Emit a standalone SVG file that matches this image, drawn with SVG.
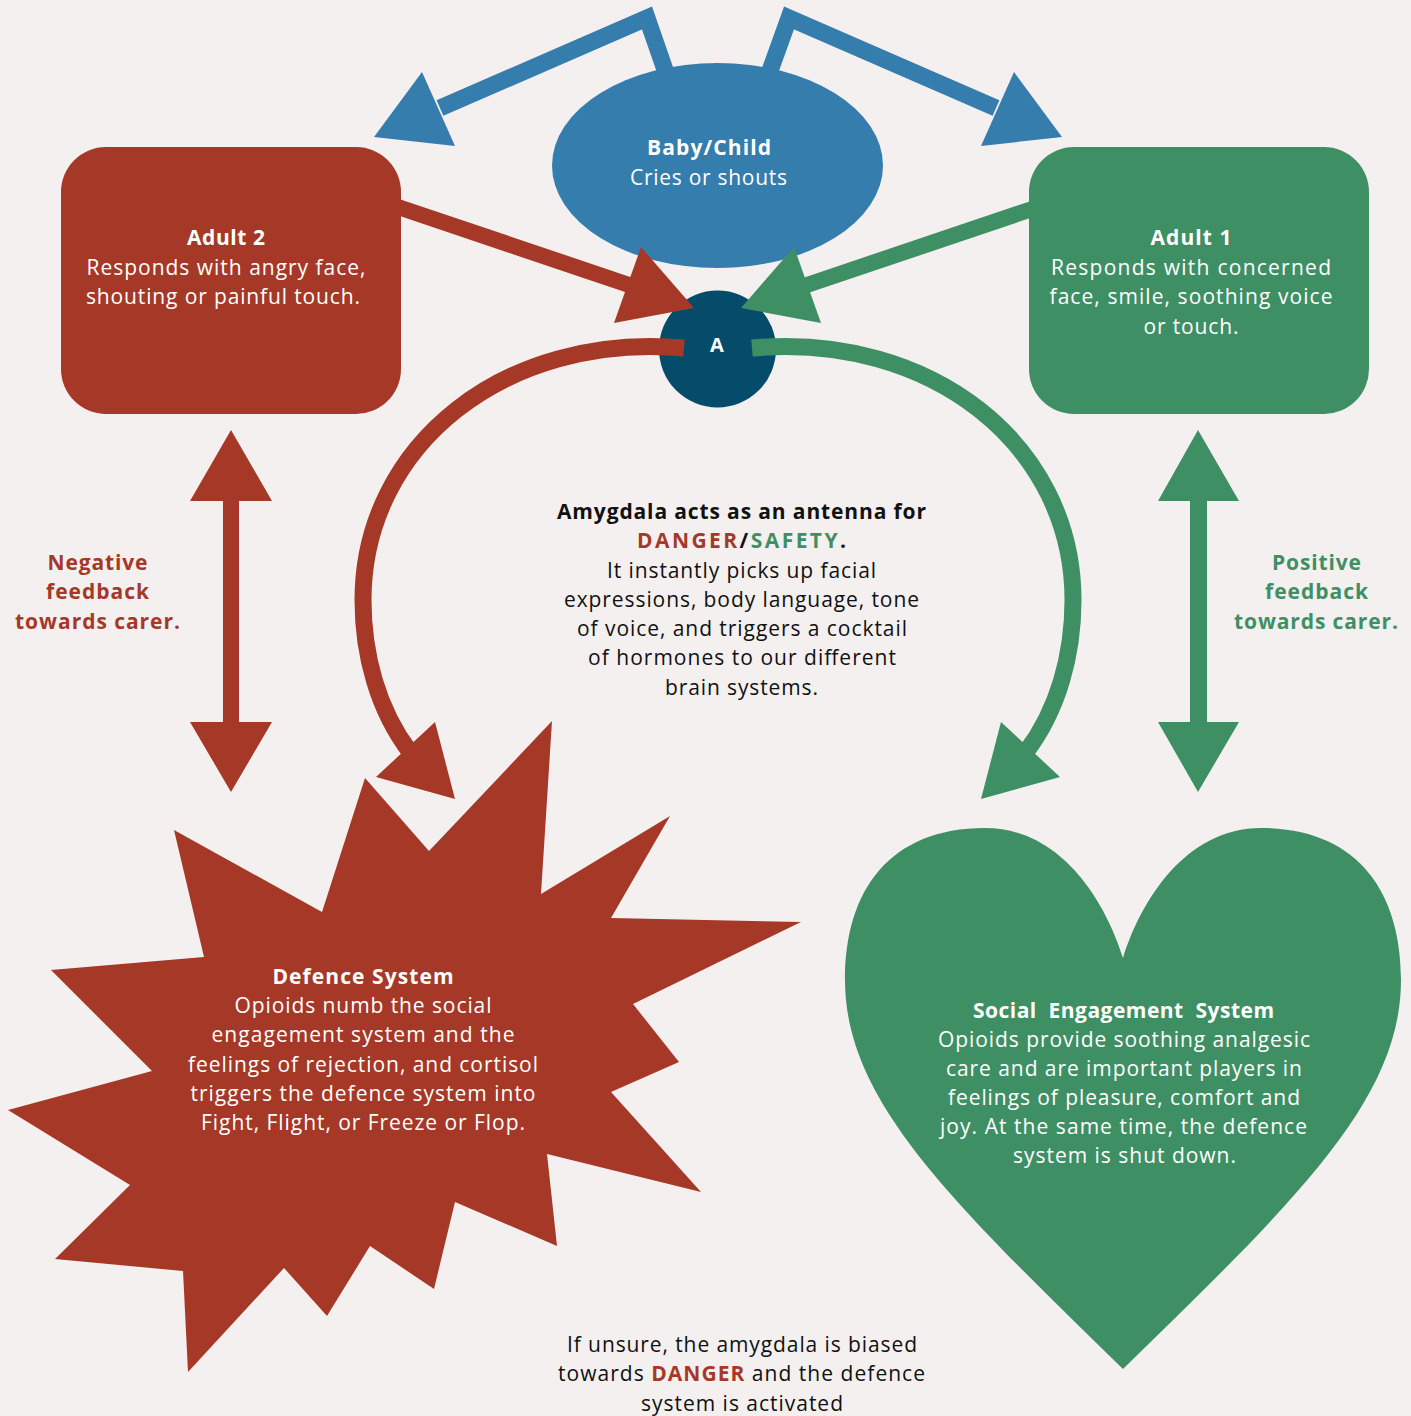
<svg xmlns="http://www.w3.org/2000/svg" width="1411" height="1416" viewBox="0 0 1411 1416">
<style>
.t{font-family:"Open Sans",Lato,"Liberation Sans",sans-serif;font-size:21px;text-anchor:middle}
.b{font-weight:bold}
.w{fill:#ffffff}
.k{fill:#111111}
.rf{fill:#a63828}
.gf{fill:#3f8f65}
.bf{fill:#357dad}
.nf{fill:#044c6a}
.rs{fill:none;stroke:#a63828}
.gs{fill:none;stroke:#3f8f65}
.bs{fill:none;stroke:#357dad;stroke-linejoin:miter}
</style>
<rect x="0" y="0" width="1411" height="1416" fill="#f4f0ef"/>

<g id="adult2">
<rect x="61" y="147" width="340" height="267" rx="45" class="rf"/>
<text class="t w b" x="226" y="245" textLength="78">Adult 2</text>
<text class="t w" x="226" y="275" textLength="279">Responds with angry face,</text>
<text class="t w" x="223" y="304" textLength="274">shouting or painful touch.</text>
</g>

<g id="adult1">
<rect x="1029" y="147" width="340" height="267" rx="45" class="gf"/>
<text class="t w b" x="1191" y="245" textLength="81">Adult 1</text>
<text class="t w" x="1191" y="275" textLength="280">Responds with concerned</text>
<text class="t w" x="1191" y="304" textLength="283">face, smile, soothing voice</text>
<text class="t w" x="1191" y="334" textLength="95">or touch.</text>
</g>

<g id="baby">
<ellipse cx="717.5" cy="165.5" rx="165.5" ry="102.5" class="bf"/>
<text class="t w b" x="709" y="155" textLength="124">Baby/Child</text>
<text class="t w" x="708.5" y="185" textLength="157">Cries or shouts</text>
</g>

<g id="amygdala">
<circle cx="717.5" cy="349" r="58.5" class="nf"/>
<text class="t w b" x="717" y="352" style="font-size:20px">A</text>
</g>

<g id="defence">
<polygon class="rf" points="552,721 541,894 670,816 611,918 801,922 633,1004 679,1062 611,1092 701,1192 547,1154 557,1246 455,1202 434,1289 370,1246 327,1316 284,1268 188,1372 183,1271 55,1259 130,1185 8,1110 152,1071 51,970 204,957 174,830 322,912 365,778 429,851"/>
<text class="t w b" x="363" y="984" textLength="181">Defence System</text>
<text class="t w" x="363" y="1013" textLength="257">Opioids numb the social</text>
<text class="t w" x="363" y="1042" textLength="303">engagement system and the</text>
<text class="t w" x="363" y="1072" textLength="350">feelings of rejection, and cortisol</text>
<text class="t w" x="363" y="1101" textLength="345">triggers the defence system into</text>
<text class="t w" x="363" y="1130" textLength="324">Fight, Flight, or Freeze or Flop.</text>
</g>

<g id="social">
<path class="gf" d="M1123,958 C1105,900 1060,828 985,828 C890,828 845,890 845,980 C845,1100 950,1200 1123,1369 C1296,1200 1401,1100 1401,980 C1401,890 1356,828 1261,828 C1186,828 1141,900 1123,958 Z"/>
<text class="t w b" x="1123.5" y="1018" textLength="301" style="white-space:pre">Social  Engagement  System</text>
<text class="t w" x="1124" y="1047" textLength="372">Opioids provide soothing analgesic</text>
<text class="t w" x="1124" y="1076" textLength="356">care and are important players in</text>
<text class="t w" x="1124" y="1105" textLength="352">feelings of pleasure, comfort and</text>
<text class="t w" x="1123.5" y="1134" textLength="367">joy. At the same time, the defence</text>
<text class="t w" x="1124.5" y="1163" textLength="223">system is shut down.</text>
</g>

<g id="connectors">
<path class="bs" stroke-width="17" d="M672,90 L647,18 L440,108"/>
<polygon class="bf" points="374,137 422,72 455,146"/>
<path class="bs" stroke-width="17" d="M763,90 L789,18 L996,108"/>
<polygon class="bf" points="1062,137 1014,72 981,146"/>
<path class="rs" stroke-width="16" d="M398,207 L632,286"/>
<polygon class="rf" points="694,308 641,247 614,323"/>
<path class="gs" stroke-width="16" d="M1038,207 L804,286"/>
<polygon class="gf" points="741,308 794,247 821,323"/>
<path class="rs" stroke-width="17" d="M684,348 C505,332 363,445 363,600 C363,655 378,710 410,752"/>
<polygon class="rf" points="455,799 376,777 435,722"/>
<path class="gs" stroke-width="17" d="M752,348 C931,332 1073,445 1073,600 C1073,655 1058,710 1026,752"/>
<polygon class="gf" points="981,799 1060,777 1001,722"/>
<polygon class="rf" points="231,430 272,501 239,501 239,722 272,722 231,792 190,722 223,722 223,501 190,501"/>
<polygon class="gf" points="1198,430 1239,501 1207,501 1207,722 1239,722 1198,792 1158,722 1190,722 1190,501 1158,501"/>
</g>

<g id="labels">
<text class="t b rf" x="97.5" y="570" textLength="100">Negative</text>
<text class="t b rf" x="97.5" y="599" textLength="103">feedback</text>
<text class="t b rf" x="97.5" y="629" textLength="165">towards carer.</text>
<text class="t b gf" x="1316.5" y="570" textLength="89">Positive</text>
<text class="t b gf" x="1316.5" y="599" textLength="103">feedback</text>
<text class="t b gf" x="1316" y="629" textLength="164">towards carer.</text>
</g>

<g id="amygdala-note">
<text class="t b k" x="741.5" y="519" textLength="369">Amygdala acts as an antenna for</text>
<text class="t b" x="741.5" y="548" textLength="209"><tspan class="rf">DANGER</tspan><tspan class="k">/</tspan><tspan class="gf">SAFETY</tspan><tspan class="k">.</tspan></text>
<text class="t k" x="741.5" y="578" textLength="269">It instantly picks up facial</text>
<text class="t k" x="741.5" y="607" textLength="355">expressions, body language, tone</text>
<text class="t k" x="742" y="636" textLength="330">of voice, and triggers a cocktail</text>
<text class="t k" x="742" y="665" textLength="308">of hormones to our different</text>
<text class="t k" x="741.5" y="695" textLength="153">brain systems.</text>
</g>

<g id="bias-note">
<text class="t k" x="742" y="1352" textLength="350">If unsure, the amygdala is biased</text>
<text class="t k" x="741.5" y="1381" textLength="367">towards <tspan class="b rf">DANGER</tspan> and the defence</text>
<text class="t k" x="742" y="1411" textLength="202">system is activated</text>
</g>
</svg>
